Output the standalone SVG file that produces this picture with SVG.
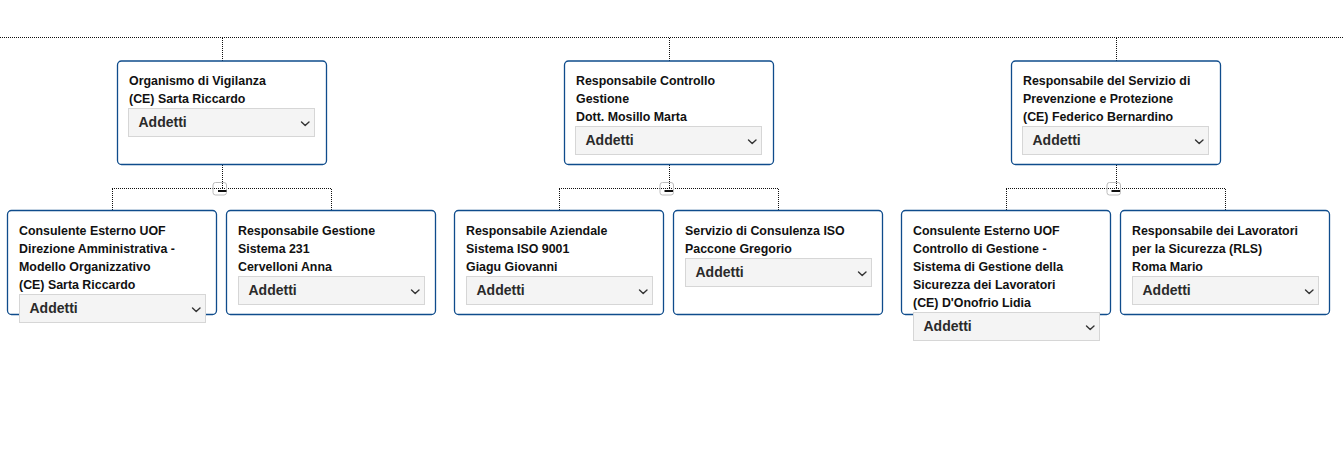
<svg xmlns="http://www.w3.org/2000/svg" width="1344" height="457" viewBox="0 0 1344 457">
<defs>
<style>
.bg{fill:#ffffff}
.conn{fill:none;stroke:#111;stroke-width:1;stroke-dasharray:1 1}
.box{fill:#ffffff;stroke:#0f4c8c;stroke-width:1.3}
.lbl{font-family:"Liberation Sans",Arial,sans-serif;font-weight:bold;font-size:12.4px;fill:#111}
.dd{fill:#f4f4f4;stroke:#d6d6d6;stroke-width:1}
.ddt{font-family:"Liberation Sans",Arial,sans-serif;font-weight:bold;font-size:14px;fill:#2a2a2a}
.chev{fill:none;stroke:#333;stroke-width:1.4;stroke-linecap:round;stroke-linejoin:round}
.btn{fill:none;stroke:#bdbdbd;stroke-width:1}
.minus{fill:#111}
</style>
</defs>
<rect class="bg" x="0" y="0" width="1344" height="457"/>

<g id="connectors">
  <path class="conn" d="M0 37.5H1344"/>
  <path class="conn" d="M222.5 38V61M669.5 38V61M1116.5 38V61"/>
  <path class="conn" d="M222.5 165V188M112 188.5H332M112.5 189V210M331.5 189V210"/>
  <path class="conn" d="M669.5 165V188M559 188.5H779M559.5 189V210M778.5 189V210"/>
  <path class="conn" d="M1116.5 165V188M1006 188.5H1226M1006.5 189V210M1225.5 189V210"/>
  <g id="collapse-1">
    <rect class="btn" x="213" y="182.5" width="13.5" height="12.5" rx="2.5"/>
    <rect class="minus" x="218" y="190" width="8.5" height="2"/>
  </g>
  <g id="collapse-2">
    <rect class="btn" x="660" y="182.5" width="13.5" height="12.5" rx="2.5"/>
    <rect class="minus" x="664.5" y="190" width="8.5" height="2"/>
  </g>
  <g id="collapse-3">
    <rect class="btn" x="1107" y="182.5" width="13.5" height="12.5" rx="2.5"/>
    <rect class="minus" x="1111.5" y="190" width="8.5" height="2"/>
  </g>
</g>

<g id="node-organismo">
  <rect class="box" x="117.5" y="61" width="209" height="103.5" rx="4"/>
  <text class="lbl" x="129" y="85">Organismo di Vigilanza</text>
  <text class="lbl" x="129" y="103">(CE) Sarta Riccardo</text>
  <rect class="dd" x="128.5" y="108.5" width="186" height="28"/>
  <text class="ddt" x="138.5" y="127">Addetti</text>
  <polyline class="chev" points="301.5,122 305.2,125.5 309,122"/>
</g>

<g id="node-controllo">
  <rect class="box" x="564.5" y="61" width="209" height="103.5" rx="4"/>
  <text class="lbl" x="576" y="85">Responsabile Controllo</text>
  <text class="lbl" x="576" y="103">Gestione</text>
  <text class="lbl" x="576" y="121">Dott. Mosillo Marta</text>
  <rect class="dd" x="575.5" y="126.5" width="186" height="28"/>
  <text class="ddt" x="585.5" y="145">Addetti</text>
  <polyline class="chev" points="748.5,140 752.2,143.5 756,140"/>
</g>

<g id="node-rspp">
  <rect class="box" x="1011.5" y="61" width="209" height="103.5" rx="4"/>
  <text class="lbl" x="1023" y="85">Responsabile del Servizio di</text>
  <text class="lbl" x="1023" y="103">Prevenzione e Protezione</text>
  <text class="lbl" x="1023" y="121">(CE) Federico Bernardino</text>
  <rect class="dd" x="1022.5" y="126.5" width="186" height="28"/>
  <text class="ddt" x="1032.5" y="145">Addetti</text>
  <polyline class="chev" points="1195.5,140 1199.2,143.5 1203,140"/>
</g>

<g id="node-consulente-uof-dir">
  <rect class="box" x="7.5" y="210.5" width="209" height="104" rx="4"/>
  <text class="lbl" x="19" y="235">Consulente Esterno UOF</text>
  <text class="lbl" x="19" y="253">Direzione Amministrativa -</text>
  <text class="lbl" x="19" y="271">Modello Organizzativo</text>
  <text class="lbl" x="19" y="289">(CE) Sarta Riccardo</text>
  <rect class="dd" x="19.5" y="294.5" width="186" height="28"/>
  <text class="ddt" x="29.5" y="313">Addetti</text>
  <polyline class="chev" points="192.5,308 196.2,311.5 200,308"/>
</g>

<g id="node-resp-231">
  <rect class="box" x="226.5" y="210.5" width="209" height="104" rx="4"/>
  <text class="lbl" x="238" y="235">Responsabile Gestione</text>
  <text class="lbl" x="238" y="253">Sistema 231</text>
  <text class="lbl" x="238" y="271">Cervelloni Anna</text>
  <rect class="dd" x="238.5" y="276.5" width="186" height="28"/>
  <text class="ddt" x="248.5" y="295">Addetti</text>
  <polyline class="chev" points="411.5,290 415.2,293.5 419,290"/>
</g>

<g id="node-resp-iso9001">
  <rect class="box" x="454.5" y="210.5" width="209" height="104" rx="4"/>
  <text class="lbl" x="466" y="235">Responsabile Aziendale</text>
  <text class="lbl" x="466" y="253">Sistema ISO 9001</text>
  <text class="lbl" x="466" y="271">Giagu Giovanni</text>
  <rect class="dd" x="466.5" y="276.5" width="186" height="28"/>
  <text class="ddt" x="476.5" y="295">Addetti</text>
  <polyline class="chev" points="639.5,290 643.2,293.5 647,290"/>
</g>

<g id="node-consulenza-iso">
  <rect class="box" x="673.5" y="210.5" width="209" height="104" rx="4"/>
  <text class="lbl" x="685" y="235">Servizio di Consulenza ISO</text>
  <text class="lbl" x="685" y="253">Paccone Gregorio</text>
  <rect class="dd" x="685.5" y="258.5" width="186" height="28"/>
  <text class="ddt" x="695.5" y="277">Addetti</text>
  <polyline class="chev" points="858.5,272 862.2,275.5 866,272"/>
</g>

<g id="node-consulente-uof-cdg">
  <rect class="box" x="901.5" y="210.5" width="209" height="104" rx="4"/>
  <text class="lbl" x="913" y="235">Consulente Esterno UOF</text>
  <text class="lbl" x="913" y="253">Controllo di Gestione -</text>
  <text class="lbl" x="913" y="271">Sistema di Gestione della</text>
  <text class="lbl" x="913" y="289">Sicurezza dei Lavoratori</text>
  <text class="lbl" x="913" y="307">(CE) D'Onofrio Lidia</text>
  <rect class="dd" x="913.5" y="312.5" width="186" height="28"/>
  <text class="ddt" x="923.5" y="331">Addetti</text>
  <polyline class="chev" points="1086.5,326 1090.2,329.5 1094,326"/>
</g>

<g id="node-rls">
  <rect class="box" x="1120.5" y="210.5" width="209" height="104" rx="4"/>
  <text class="lbl" x="1132" y="235">Responsabile dei Lavoratori</text>
  <text class="lbl" x="1132" y="253">per la Sicurezza (RLS)</text>
  <text class="lbl" x="1132" y="271">Roma Mario</text>
  <rect class="dd" x="1132.5" y="276.5" width="186" height="28"/>
  <text class="ddt" x="1142.5" y="295">Addetti</text>
  <polyline class="chev" points="1305.5,290 1309.2,293.5 1313,290"/>
</g>
</svg>
